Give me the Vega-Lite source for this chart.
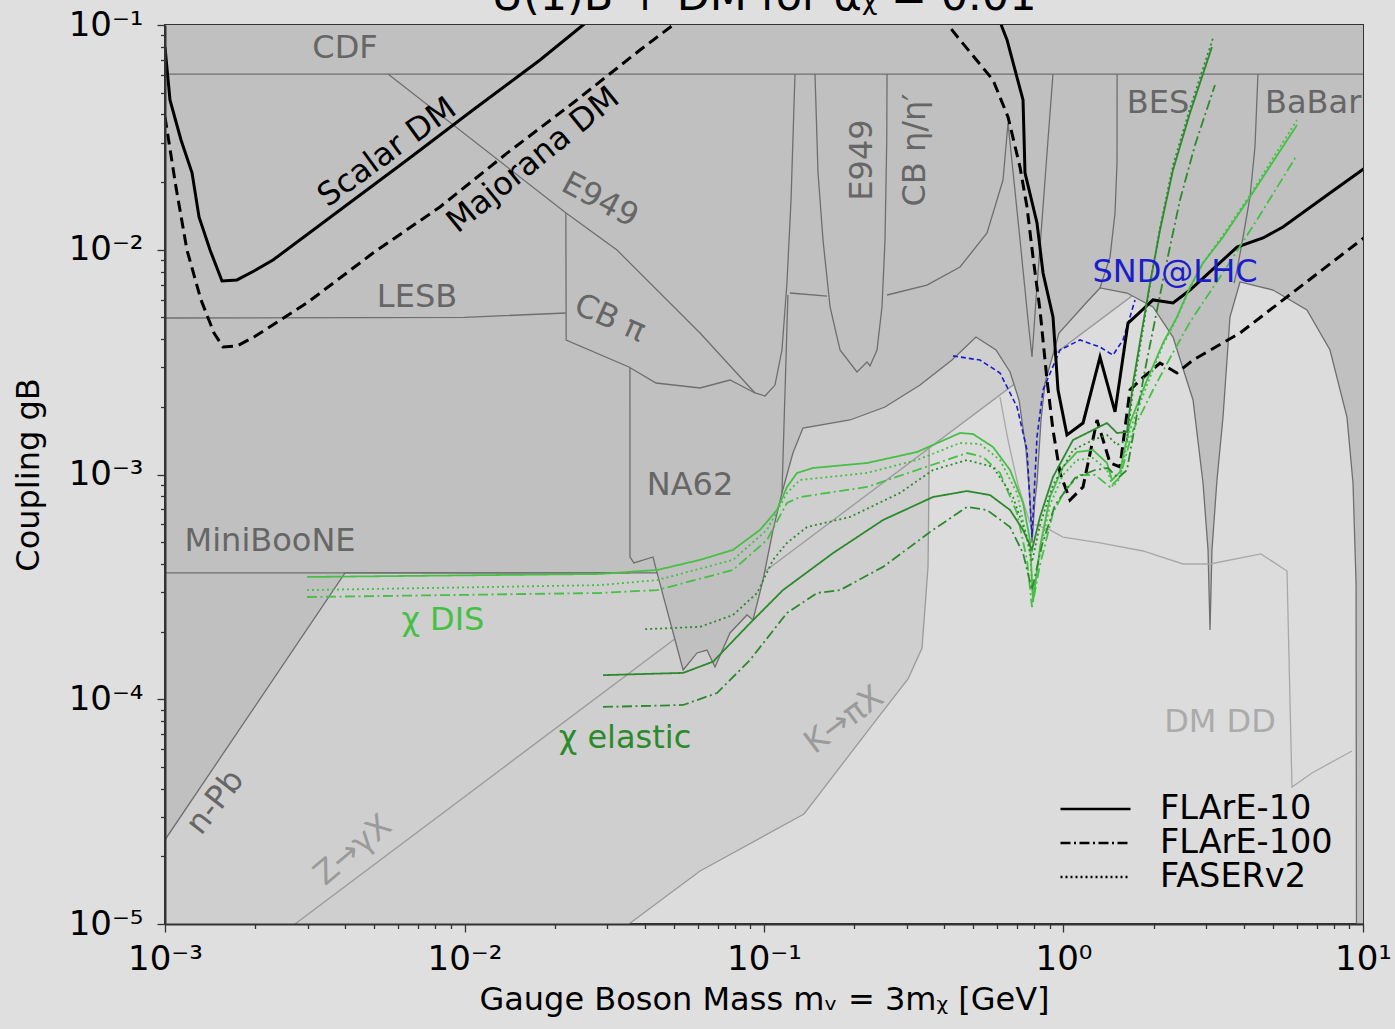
{
"$schema":"https://vega.github.io/schema/vega-lite/v6.json",
"width":1198,"height":899,
"autosize":{"type":"none"},
"padding":{"left":165,"top":25,"right":32,"bottom":105},
"background":"#dfdfdf",
"config":{"view":{"fill":"#dcdcdc","stroke":"#333333","strokeWidth":2},"font":"DejaVu Sans"},
"title":{"text":"U(1)B + DM for αᵪ = 0.01","fontSize":43,"font":"DejaVu Sans","fontWeight":"normal","color":"#000000","offset":0,"dy":45,"baseline":"alphabetic","anchor":"middle"},
"datasets":{
"env":[{"m":0.001,"g":2.37e-5},{"m":0.00399,"g":3.65e-4},{"m":0.04395,"g":3.65e-4},{"m":0.0537,"g":1.349e-4},{"m":0.05975,"g":1.607e-4},{"m":0.0645,"g":1.656e-4},{"m":0.06861,"g":1.391e-4},{"m":0.077,"g":1.972e-4},{"m":0.08774,"g":2.371e-4},{"m":0.0919,"g":2.253e-4},{"m":0.09925,"g":3.393e-4},{"m":0.1072,"g":5.665e-4},{"m":0.1148,"g":8.275e-4},{"m":0.1249,"g":1.246e-3},{"m":0.1349,"g":1.61e-3},{"m":0.1937,"g":1.748e-3},{"m":0.2535,"g":1.997e-3},{"m":0.3319,"g":2.5e-3},{"m":0.4242,"g":3.233e-3},{"m":0.5103,"g":4.09e-3},{"m":0.5951,"g":3.58e-3},{"m":0.6631,"g":2.858e-3},{"m":0.7103,"g":2.145e-3},{"m":0.7496,"g":1.285e-3},{"m":0.7729,"g":7.7e-4},{"m":0.7849,"g":4.958e-4},{"m":0.8031,"g":7.7e-4},{"m":0.8157,"g":9.17e-4},{"m":0.8413,"g":1.748e-3},{"m":0.8673,"g":2.553e-3},{"m":0.966,"g":4.263e-3},{"m":1.189,"g":5.797e-3},{"m":1.324,"g":6.76e-3},{"m":1.629,"g":6.42e-3},{"m":1.99,"g":5.563e-3},{"m":2.321,"g":4.09e-3},{"m":2.707,"g":2.145e-3},{"m":2.923,"g":9.17e-4},{"m":3.038,"g":4.615e-4},{"m":3.085,"g":2.033e-4},{"m":3.131,"g":4.615e-4},{"m":3.254,"g":9.45e-4},{"m":3.409,"g":1.802e-3},{"m":3.596,"g":5.02e-3},{"m":3.884,"g":7.19e-3},{"m":5.006,"g":6.62e-3},{"m":6.5,"g":5.395e-3},{"m":7.76,"g":3.58e-3},{"m":8.84,"g":1.802e-3},{"m":9.26,"g":9.17e-4},{"m":9.48,"g":3.29e-4},{"m":9.51,"g":1e-5},{"m":10,"g":1e-5}],
"med":[{"m":0.001,"g":1e-5},{"m":0.0354,"g":1e-5},{"m":0.06115,"g":1.721e-5},{"m":0.136,"g":3.087e-5},{"m":0.2384,"g":8.18e-5},{"m":0.3026,"g":1.231e-4},{"m":0.337,"g":1.69e-4},{"m":0.3529,"g":3.878e-4},{"m":0.355,"g":7.7e-4},{"m":0.356,"g":1.31e-3},{"m":10,"g":0.0368}],
"kz":[{"id":"K","m":0.0354,"g":1e-5},{"id":"K","m":0.06115,"g":1.721e-5},{"id":"K","m":0.136,"g":3.087e-5},{"id":"K","m":0.2384,"g":8.18e-5},{"id":"K","m":0.3026,"g":1.231e-4},{"id":"K","m":0.337,"g":1.69e-4},{"id":"K","m":0.3529,"g":3.878e-4},{"id":"K","m":0.355,"g":7.7e-4},{"id":"K","m":0.356,"g":1.31e-3},{"id":"Z","m":0.002717,"g":1e-5},{"id":"Z","m":1.733,"g":6.38e-3}],
"outl":[
{"id":"CDF","m":0.001,"g":0.0605},{"id":"CDF","m":10,"g":0.0605},
{"id":"LESB","m":0.001,"g":4.97e-3},{"id":"LESB","m":0.01,"g":5.0e-3},{"id":"LESB","m":0.0218,"g":5.23e-3},
{"id":"MB","m":0.001,"g":3.65e-4},{"id":"MB","m":0.0357,"g":3.65e-4},
{"id":"E949d","m":0.005554,"g":0.0605},{"id":"E949d","m":0.02183,"g":1.457e-2},{"id":"E949d","m":0.03229,"g":9.97e-3},{"id":"E949d","m":0.06115,"g":4.263e-3},{"id":"E949d","m":0.0933,"g":2.305e-3},
{"id":"CBpi","m":0.0218,"g":1.457e-2},{"id":"CBpi","m":0.02185,"g":3.966e-3},{"id":"CBpi","m":0.0354,"g":3.009e-3},{"id":"CBpi","m":0.0436,"g":2.553e-3},{"id":"CBpi","m":0.06115,"g":2.426e-3},{"id":"CBpi","m":0.077,"g":2.633e-3},{"id":"CBpi","m":0.0933,"g":2.305e-3},{"id":"CBpi","m":0.1008,"g":2.235e-3},{"id":"CBpi","m":0.1088,"g":2.5e-3},{"id":"CBpi","m":0.1148,"g":3.58e-3},{"id":"CBpi","m":0.1193,"g":7.11e-3},{"id":"CBpi","m":0.1231,"g":1.665e-2},{"id":"CBpi","m":0.1269,"g":0.0605},
{"id":"NA62l","m":0.03568,"g":2.978e-3},{"id":"NA62l","m":0.03569,"g":4.295e-4},{"id":"NA62l","m":0.0368,"g":4.04e-4},{"id":"NA62l","m":0.0426,"g":4.295e-4},{"id":"NA62l","m":0.04395,"g":3.65e-4},
{"id":"NA62r","m":0.1148,"g":8.275e-4},{"id":"NA62r","m":0.1202,"g":6.29e-3},
{"id":"L9","m":0.1221,"g":6.42e-3},{"id":"L9","m":0.1623,"g":6.22e-3},
{"id":"E949v","m":0.148,"g":0.0605},{"id":"E949v","m":0.1515,"g":2.196e-2},{"id":"E949v","m":0.1574,"g":1.105e-2},{"id":"E949v","m":0.1662,"g":5.563e-3},{"id":"E949v","m":0.1794,"g":3.58e-3},{"id":"E949v","m":0.2044,"g":2.858e-3},{"id":"E949v","m":0.2208,"g":3.167e-3},{"id":"E949v","m":0.2259,"g":3.04e-3},{"id":"E949v","m":0.2384,"g":3.58e-3},{"id":"E949v","m":0.2477,"g":5.563e-3},{"id":"E949v","m":0.2535,"g":1.105e-2},{"id":"E949v","m":0.257,"g":3.078e-2},{"id":"E949v","m":0.2575,"g":0.0605},
{"id":"CBeta","m":0.2576,"g":6.29e-3},{"id":"CBeta","m":0.35,"g":6.967e-3},{"id":"CBeta","m":0.4512,"g":8.378e-3},{"id":"CBeta","m":0.5554,"g":1.187e-2},{"id":"CBeta","m":0.6281,"g":2.043e-2},{"id":"CBeta","m":0.6527,"g":3.664e-2},{"id":"CBeta","m":0.7159,"g":1.105e-2},{"id":"CBeta","m":0.7613,"g":4.87e-3},{"id":"CBeta","m":0.7849,"g":3.333e-3},{"id":"CBeta","m":0.8094,"g":5.975e-3},{"id":"CBeta","m":0.8544,"g":1.55e-2},{"id":"CBeta","m":0.8876,"g":3.078e-2},{"id":"CBeta","m":0.9224,"g":0.0605},
{"id":"BES","m":1.324,"g":6.76e-3},{"id":"BES","m":1.43,"g":9.28e-3},{"id":"BES","m":1.486,"g":1.457e-2},{"id":"BES","m":1.509,"g":2.432e-2},{"id":"BES","m":1.51,"g":0.0605},
{"id":"BaBar","m":3.711,"g":7.11e-3},{"id":"BaBar","m":3.797,"g":8.13e-3},{"id":"BaBar","m":3.976,"g":1.139e-2},{"id":"BaBar","m":4.195,"g":1.717e-2},{"id":"BaBar","m":4.358,"g":2.865e-2},{"id":"BaBar","m":4.459,"g":0.0605}
],
"dmdd":[{"m":0.6138,"g":2.212e-3},{"m":0.6527,"g":1.424e-3},{"m":0.7049,"g":8.98e-4},{"m":0.7729,"g":6.08e-4},{"m":0.9013,"g":5.665e-4},{"m":0.996,"g":5.27e-4},{"m":1.324,"g":4.958e-4},{"m":1.842,"g":4.567e-4},{"m":2.506,"g":3.998e-4},{"m":3.085,"g":3.998e-4},{"m":4.563,"g":4.43e-4},{"m":5.575,"g":3.72e-4},{"m":5.793,"g":4.07e-5},{"m":6.754,"g":4.7e-5},{"m":9.19,"g":5.885e-5}],
"snd":[{"m":0.4276,"g":3.37e-3},{"m":0.5263,"g":3.23e-3},{"m":0.6138,"g":2.83e-3},{"m":0.6994,"g":2.0e-3},{"m":0.7553,"g":1.285e-3},{"m":0.7849,"g":5.27e-4},{"m":0.8157,"g":1.47e-3},{"m":0.8544,"g":2.38e-3},{"m":0.9734,"g":3.58e-3},{"m":1.135,"g":3.97e-3},{"m":1.324,"g":3.69e-3},{"m":1.463,"g":3.4e-3},{"m":1.58,"g":3.97e-3},{"m":1.667,"g":5.02e-3},{"m":1.733,"g":5.98e-3}],
"scalar":[
{"id":"L","m":0.001,"g":7.98e-2},{"id":"L","m":0.001039,"g":4.64e-2},{"id":"L","m":0.001131,"g":3.08e-2},{"id":"L","m":0.001231,"g":2.2e-2},{"id":"L","m":0.001299,"g":1.4e-2},{"id":"L","m":0.001414,"g":9.97e-3},{"id":"L","m":0.00155,"g":7.26e-3},{"id":"L","m":0.001739,"g":7.34e-3},{"id":"L","m":0.001982,"g":8.04e-3},{"id":"L","m":0.002294,"g":9.0e-3},{"id":"L","m":0.00384,"g":1.503e-2},{"id":"L","m":0.00643,"g":2.508e-2},{"id":"L","m":0.01067,"g":4.185e-2},{"id":"L","m":0.01787,"g":6.99e-2},{"id":"L","m":0.02487,"g":0.1},{"id":"L","m":0.0277,"g":0.1108},
{"id":"R","m":0.6044,"g":0.1108},{"id":"R","m":0.6233,"g":9.8e-2},{"id":"R","m":0.6479,"g":8.58e-2},{"id":"R","m":0.7326,"g":4.64e-2},{"id":"R","m":0.7438,"g":2.2e-2},{"id":"R","m":0.8157,"g":1.315e-2},{"id":"R","m":0.8544,"g":7.88e-3},{"id":"R","m":0.9224,"g":5.02e-3},{"id":"R","m":0.9585,"g":2.38e-3},{"id":"R","m":1.027,"g":1.5e-3},{"id":"R","m":1.162,"g":1.695e-3},{"id":"R","m":1.324,"g":3.33e-3},{"id":"R","m":1.486,"g":1.9e-3},{"id":"R","m":1.642,"g":4.72e-3},{"id":"R","m":1.76,"g":5.13e-3},{"id":"R","m":1.99,"g":5.98e-3},{"id":"R","m":2.321,"g":5.8e-3},{"id":"R","m":2.645,"g":6.62e-3},{"id":"R","m":3.797,"g":1.028e-2},{"id":"R","m":4.636,"g":1.128e-2},{"id":"R","m":5.405,"g":1.262e-2},{"id":"R","m":7.76,"g":1.789e-2},{"id":"R","m":10.15,"g":2.31e-2}],
"major":[
{"id":"L","m":0.001,"g":3.9e-2},{"id":"L","m":0.001088,"g":1.9e-2},{"id":"L","m":0.001184,"g":9.97e-3},{"id":"L","m":0.001319,"g":5.98e-3},{"id":"L","m":0.001458,"g":4.26e-3},{"id":"L","m":0.001562,"g":3.69e-3},{"id":"L","m":0.001739,"g":3.73e-3},{"id":"L","m":0.001982,"g":4.09e-3},{"id":"L","m":0.002979,"g":5.8e-3},{"id":"L","m":0.00495,"g":9.67e-3},{"id":"L","m":0.00828,"g":1.55e-2},{"id":"L","m":0.01387,"g":2.69e-2},{"id":"L","m":0.02303,"g":4.5e-2},{"id":"L","m":0.03855,"g":7.74e-2},{"id":"L","m":0.0497,"g":0.1},{"id":"L","m":0.0549,"g":0.1108},
{"id":"R","m":0.3929,"g":0.1108},{"id":"R","m":0.4115,"g":0.1},{"id":"R","m":0.4512,"g":8.58e-2},{"id":"R","m":0.5816,"g":5.69e-2},{"id":"R","m":0.6527,"g":3.9e-2},{"id":"R","m":0.7159,"g":2.33e-2},{"id":"R","m":0.7553,"g":1.55e-2},{"id":"R","m":0.791,"g":9.28e-3},{"id":"R","m":0.8346,"g":5.4e-3},{"id":"R","m":0.881,"g":2.63e-3},{"id":"R","m":0.9224,"g":1.578e-3},{"id":"R","m":0.9734,"g":1.016e-3},{"id":"R","m":1.051,"g":7.7e-4},{"id":"R","m":1.162,"g":8.8e-4},{"id":"R","m":1.294,"g":1.748e-3},{"id":"R","m":1.43,"g":1.125e-3},{"id":"R","m":1.544,"g":1.08e-3},{"id":"R","m":1.667,"g":2.38e-3},{"id":"R","m":1.801,"g":2.63e-3},{"id":"R","m":2.1,"g":3.13e-3},{"id":"R","m":2.393,"g":2.83e-3},{"id":"R","m":2.707,"g":3.23e-3},{"id":"R","m":3.884,"g":4.26e-3},{"id":"R","m":10.15,"g":1.139e-2}],
"curves":[
{"kind":"DIS","exp":"FLArE-10","m":0.00298,"g":3.5e-4},{"kind":"DIS","exp":"FLArE-10","m":0.0283,"g":3.61e-4},{"kind":"DIS","exp":"FLArE-10","m":0.044,"g":3.76e-4},{"kind":"DIS","exp":"FLArE-10","m":0.0612,"g":4.17e-4},{"kind":"DIS","exp":"FLArE-10","m":0.0788,"g":4.62e-4},{"kind":"DIS","exp":"FLArE-10","m":0.097,"g":5.67e-4},{"kind":"DIS","exp":"FLArE-10","m":0.1105,"g":6.95e-4},{"kind":"DIS","exp":"FLArE-10","m":0.1193,"g":8.8e-4},{"kind":"DIS","exp":"FLArE-10","m":0.1289,"g":1.016e-3},{"kind":"DIS","exp":"FLArE-10","m":0.1458,"g":1.069e-3},{"kind":"DIS","exp":"FLArE-10","m":0.2208,"g":1.125e-3},{"kind":"DIS","exp":"FLArE-10","m":0.3243,"g":1.259e-3},{"kind":"DIS","exp":"FLArE-10","m":0.4512,"g":1.53e-3},{"kind":"DIS","exp":"FLArE-10","m":0.4986,"g":1.514e-3},{"kind":"DIS","exp":"FLArE-10","m":0.5816,"g":1.326e-3},{"kind":"DIS","exp":"FLArE-10","m":0.6631,"g":1.047e-3},{"kind":"DIS","exp":"FLArE-10","m":0.7326,"g":7.47e-4},{"kind":"DIS","exp":"FLArE-10","m":0.7729,"g":5.11e-4},{"kind":"DIS","exp":"FLArE-10","m":0.791,"g":2.71e-4},{"kind":"DIS","exp":"FLArE-10","m":0.8346,"g":4.76e-4},{"kind":"DIS","exp":"FLArE-10","m":0.9013,"g":7.94e-4},{"kind":"DIS","exp":"FLArE-10","m":0.996,"g":1.08e-3},{"kind":"DIS","exp":"FLArE-10","m":1.109,"g":1.259e-3},{"kind":"DIS","exp":"FLArE-10","m":1.255,"g":1.285e-3},{"kind":"DIS","exp":"FLArE-10","m":1.397,"g":1.125e-3},{"kind":"DIS","exp":"FLArE-10","m":1.452,"g":9.45e-4},{"kind":"DIS","exp":"FLArE-10","m":1.544,"g":1.026e-3},{"kind":"DIS","exp":"FLArE-10","m":1.667,"g":1.695e-3},{"kind":"DIS","exp":"FLArE-10","m":1.9,"g":2.633e-3},{"kind":"DIS","exp":"FLArE-10","m":2.149,"g":3.847e-3},{"kind":"DIS","exp":"FLArE-10","m":2.393,"g":5.02e-3},{"kind":"DIS","exp":"FLArE-10","m":2.645,"g":6.83e-3},{"kind":"DIS","exp":"FLArE-10","m":2.923,"g":8.73e-3},{"kind":"DIS","exp":"FLArE-10","m":3.409,"g":1.139e-2},{"kind":"DIS","exp":"FLArE-10","m":4.195,"g":1.717e-2},{"kind":"DIS","exp":"FLArE-10","m":6.02,"g":3.589e-2},
{"kind":"DIS","exp":"FASERv2","m":0.00298,"g":3.06e-4},{"kind":"DIS","exp":"FASERv2","m":0.0283,"g":3.22e-4},{"kind":"DIS","exp":"FASERv2","m":0.044,"g":3.39e-4},{"kind":"DIS","exp":"FASERv2","m":0.0788,"g":4.17e-4},{"kind":"DIS","exp":"FASERv2","m":0.1023,"g":5.67e-4},{"kind":"DIS","exp":"FASERv2","m":0.1193,"g":8.28e-4},{"kind":"DIS","exp":"FASERv2","m":0.1319,"g":9.45e-4},{"kind":"DIS","exp":"FASERv2","m":0.2208,"g":1.016e-3},{"kind":"DIS","exp":"FASERv2","m":0.3243,"g":1.16e-3},{"kind":"DIS","exp":"FASERv2","m":0.4512,"g":1.381e-3},{"kind":"DIS","exp":"FASERv2","m":0.5263,"g":1.367e-3},{"kind":"DIS","exp":"FASERv2","m":0.6138,"g":1.16e-3},{"kind":"DIS","exp":"FASERv2","m":0.6994,"g":8.28e-4},{"kind":"DIS","exp":"FASERv2","m":0.7729,"g":4.47e-4},{"kind":"DIS","exp":"FASERv2","m":0.791,"g":2.85e-4},{"kind":"DIS","exp":"FASERv2","m":0.8346,"g":4.52e-4},{"kind":"DIS","exp":"FASERv2","m":0.9013,"g":7.31e-4},{"kind":"DIS","exp":"FASERv2","m":0.996,"g":9.95e-4},{"kind":"DIS","exp":"FASERv2","m":1.109,"g":1.16e-3},{"kind":"DIS","exp":"FASERv2","m":1.255,"g":1.184e-3},{"kind":"DIS","exp":"FASERv2","m":1.397,"g":1.047e-3},{"kind":"DIS","exp":"FASERv2","m":1.463,"g":8.8e-4},{"kind":"DIS","exp":"FASERv2","m":1.544,"g":9.65e-4},{"kind":"DIS","exp":"FASERv2","m":1.667,"g":1.578e-3},{"kind":"DIS","exp":"FASERv2","m":1.9,"g":2.5e-3},{"kind":"DIS","exp":"FASERv2","m":2.149,"g":3.77e-3},{"kind":"DIS","exp":"FASERv2","m":2.393,"g":4.97e-3},{"kind":"DIS","exp":"FASERv2","m":2.645,"g":6.76e-3},{"kind":"DIS","exp":"FASERv2","m":2.923,"g":8.73e-3},{"kind":"DIS","exp":"FASERv2","m":3.409,"g":1.163e-2},{"kind":"DIS","exp":"FASERv2","m":4.195,"g":1.753e-2},{"kind":"DIS","exp":"FASERv2","m":6.02,"g":3.78e-2},
{"kind":"DIS","exp":"FLArE-100","m":0.00298,"g":2.85e-4},{"kind":"DIS","exp":"FLArE-100","m":0.0283,"g":2.97e-4},{"kind":"DIS","exp":"FLArE-100","m":0.044,"g":3.06e-4},{"kind":"DIS","exp":"FLArE-100","m":0.0788,"g":3.76e-4},{"kind":"DIS","exp":"FLArE-100","m":0.1023,"g":5.11e-4},{"kind":"DIS","exp":"FLArE-100","m":0.1193,"g":7.47e-4},{"kind":"DIS","exp":"FLArE-100","m":0.1319,"g":7.94e-4},{"kind":"DIS","exp":"FLArE-100","m":0.2208,"g":8.8e-4},{"kind":"DIS","exp":"FLArE-100","m":0.3243,"g":1.047e-3},{"kind":"DIS","exp":"FLArE-100","m":0.4762,"g":1.246e-3},{"kind":"DIS","exp":"FLArE-100","m":0.5385,"g":1.197e-3},{"kind":"DIS","exp":"FLArE-100","m":0.6138,"g":1.016e-3},{"kind":"DIS","exp":"FLArE-100","m":0.6994,"g":6.74e-4},{"kind":"DIS","exp":"FLArE-100","m":0.7553,"g":4.17e-4},{"kind":"DIS","exp":"FLArE-100","m":0.7849,"g":2.57e-4},{"kind":"DIS","exp":"FLArE-100","m":0.8346,"g":3.96e-4},{"kind":"DIS","exp":"FLArE-100","m":0.9224,"g":6.74e-4},{"kind":"DIS","exp":"FLArE-100","m":1.012,"g":8.53e-4},{"kind":"DIS","exp":"FLArE-100","m":1.135,"g":9.95e-4},{"kind":"DIS","exp":"FLArE-100","m":1.274,"g":9.95e-4},{"kind":"DIS","exp":"FLArE-100","m":1.43,"g":8.8e-4},{"kind":"DIS","exp":"FLArE-100","m":1.544,"g":9.75e-4},{"kind":"DIS","exp":"FLArE-100","m":1.707,"g":1.578e-3},{"kind":"DIS","exp":"FLArE-100","m":1.99,"g":2.377e-3},{"kind":"DIS","exp":"FLArE-100","m":2.268,"g":3.3e-3},{"kind":"DIS","exp":"FLArE-100","m":2.645,"g":4.77e-3},{"kind":"DIS","exp":"FLArE-100","m":3.085,"g":6.49e-3},{"kind":"DIS","exp":"FLArE-100","m":3.596,"g":8.82e-3},{"kind":"DIS","exp":"FLArE-100","m":4.53,"g":1.427e-2},{"kind":"DIS","exp":"FLArE-100","m":6.02,"g":2.64e-2},
{"kind":"elastic","exp":"FLArE-10","m":0.029,"g":1.28e-4},{"kind":"elastic","exp":"FLArE-10","m":0.0537,"g":1.31e-4},{"kind":"elastic","exp":"FLArE-10","m":0.0676,"g":1.47e-4},{"kind":"elastic","exp":"FLArE-10","m":0.0898,"g":2.18e-4},{"kind":"elastic","exp":"FLArE-10","m":0.1157,"g":3.06e-4},{"kind":"elastic","exp":"FLArE-10","m":0.17,"g":4.47e-4},{"kind":"elastic","exp":"FLArE-10","m":0.2496,"g":6.27e-4},{"kind":"elastic","exp":"FLArE-10","m":0.3666,"g":7.94e-4},{"kind":"elastic","exp":"FLArE-10","m":0.4762,"g":8.44e-4},{"kind":"elastic","exp":"FLArE-10","m":0.5684,"g":8.1e-4},{"kind":"elastic","exp":"FLArE-10","m":0.6631,"g":6.95e-4},{"kind":"elastic","exp":"FLArE-10","m":0.7326,"g":5.67e-4},{"kind":"elastic","exp":"FLArE-10","m":0.7849,"g":4.62e-4},{"kind":"elastic","exp":"FLArE-10","m":0.8346,"g":6.47e-4},{"kind":"elastic","exp":"FLArE-10","m":0.9224,"g":9.75e-4},{"kind":"elastic","exp":"FLArE-10","m":1.076,"g":1.424e-3},{"kind":"elastic","exp":"FLArE-10","m":1.255,"g":1.578e-3},{"kind":"elastic","exp":"FLArE-10","m":1.397,"g":1.695e-3},{"kind":"elastic","exp":"FLArE-10","m":1.509,"g":1.53e-3},{"kind":"elastic","exp":"FLArE-10","m":1.629,"g":1.546e-3},{"kind":"elastic","exp":"FLArE-10","m":1.707,"g":2.553e-3},{"kind":"elastic","exp":"FLArE-10","m":1.829,"g":4.4e-3},{"kind":"elastic","exp":"FLArE-10","m":1.945,"g":7.11e-3},{"kind":"elastic","exp":"FLArE-10","m":2.1,"g":1.224e-2},{"kind":"elastic","exp":"FLArE-10","m":2.321,"g":2.264e-2},{"kind":"elastic","exp":"FLArE-10","m":2.645,"g":4.06e-2},{"kind":"elastic","exp":"FLArE-10","m":3.131,"g":7.98e-2},
{"kind":"elastic","exp":"FASERv2","m":0.0401,"g":2.05e-4},{"kind":"elastic","exp":"FASERv2","m":0.0612,"g":2.1e-4},{"kind":"elastic","exp":"FASERv2","m":0.0788,"g":2.37e-4},{"kind":"elastic","exp":"FASERv2","m":0.0948,"g":2.97e-4},{"kind":"elastic","exp":"FASERv2","m":0.1072,"g":4.17e-4},{"kind":"elastic","exp":"FASERv2","m":0.1193,"g":4.96e-4},{"kind":"elastic","exp":"FASERv2","m":0.1392,"g":5.84e-4},{"kind":"elastic","exp":"FASERv2","m":0.1937,"g":6.47e-4},{"kind":"elastic","exp":"FASERv2","m":0.2844,"g":8.28e-4},{"kind":"elastic","exp":"FASERv2","m":0.3666,"g":1.047e-3},{"kind":"elastic","exp":"FASERv2","m":0.4762,"g":1.16e-3},{"kind":"elastic","exp":"FASERv2","m":0.5816,"g":1.08e-3},{"kind":"elastic","exp":"FASERv2","m":0.678,"g":7.94e-4},{"kind":"elastic","exp":"FASERv2","m":0.7553,"g":5.27e-4},{"kind":"elastic","exp":"FASERv2","m":0.7849,"g":4.08e-4},{"kind":"elastic","exp":"FASERv2","m":0.8346,"g":5.96e-4},{"kind":"elastic","exp":"FASERv2","m":0.9224,"g":8.98e-4},{"kind":"elastic","exp":"FASERv2","m":1.076,"g":1.285e-3},{"kind":"elastic","exp":"FASERv2","m":1.255,"g":1.424e-3},{"kind":"elastic","exp":"FASERv2","m":1.397,"g":1.499e-3},{"kind":"elastic","exp":"FASERv2","m":1.509,"g":1.353e-3},{"kind":"elastic","exp":"FASERv2","m":1.629,"g":1.424e-3},{"kind":"elastic","exp":"FASERv2","m":1.707,"g":2.377e-3},{"kind":"elastic","exp":"FASERv2","m":1.829,"g":4.175e-3},{"kind":"elastic","exp":"FASERv2","m":1.945,"g":6.97e-3},{"kind":"elastic","exp":"FASERv2","m":2.1,"g":1.25e-2},{"kind":"elastic","exp":"FASERv2","m":2.321,"g":2.38e-2},{"kind":"elastic","exp":"FASERv2","m":2.645,"g":4.27e-2},{"kind":"elastic","exp":"FASERv2","m":3.156,"g":8.75e-2},
{"kind":"elastic","exp":"FLArE-100","m":0.029,"g":9.24e-5},{"kind":"elastic","exp":"FLArE-100","m":0.0537,"g":9.43e-5},{"kind":"elastic","exp":"FLArE-100","m":0.0697,"g":1.066e-4},{"kind":"elastic","exp":"FLArE-100","m":0.0898,"g":1.495e-4},{"kind":"elastic","exp":"FLArE-100","m":0.1193,"g":2.42e-4},{"kind":"elastic","exp":"FLArE-100","m":0.1503,"g":2.97e-4},{"kind":"elastic","exp":"FLArE-100","m":0.1794,"g":3.06e-4},{"kind":"elastic","exp":"FLArE-100","m":0.2496,"g":3.88e-4},{"kind":"elastic","exp":"FLArE-100","m":0.3666,"g":5.67e-4},{"kind":"elastic","exp":"FLArE-100","m":0.4762,"g":7.17e-4},{"kind":"elastic","exp":"FLArE-100","m":0.5554,"g":6.95e-4},{"kind":"elastic","exp":"FLArE-100","m":0.6631,"g":5.84e-4},{"kind":"elastic","exp":"FLArE-100","m":0.7326,"g":4.47e-4},{"kind":"elastic","exp":"FLArE-100","m":0.7849,"g":3.06e-4},{"kind":"elastic","exp":"FLArE-100","m":0.8475,"g":4.86e-4},{"kind":"elastic","exp":"FLArE-100","m":0.9367,"g":7.31e-4},{"kind":"elastic","exp":"FLArE-100","m":1.092,"g":9.65e-4},{"kind":"elastic","exp":"FLArE-100","m":1.274,"g":1.047e-3},{"kind":"elastic","exp":"FLArE-100","m":1.408,"g":1.069e-3},{"kind":"elastic","exp":"FLArE-100","m":1.521,"g":9.65e-4},{"kind":"elastic","exp":"FLArE-100","m":1.629,"g":1.047e-3},{"kind":"elastic","exp":"FLArE-100","m":1.733,"g":1.661e-3},{"kind":"elastic","exp":"FLArE-100","m":1.871,"g":2.917e-3},{"kind":"elastic","exp":"FLArE-100","m":2.021,"g":4.87e-3},{"kind":"elastic","exp":"FLArE-100","m":2.183,"g":8.13e-3},{"kind":"elastic","exp":"FLArE-100","m":2.449,"g":1.665e-2},{"kind":"elastic","exp":"FLArE-100","m":2.749,"g":2.925e-2},{"kind":"elastic","exp":"FLArE-100","m":3.204,"g":5.41e-2}
]
},
"encoding":{
"x":{"field":"m","type":"quantitative","scale":{"type":"log","domain":[0.001,10],"nice":false},
"axis":{"title":"Gauge Boson Mass mᵥ = 3mᵪ [GeV]","values":[0.001,0.002,0.003,0.004,0.005,0.006,0.007,0.008,0.009,0.01,0.02,0.03,0.04,0.05,0.06,0.07,0.08,0.09,0.1,0.2,0.3,0.4,0.5,0.6,0.7,0.8,0.9,1,2,3,4,5,6,7,8,9,10],
"labelExpr":"abs(log(datum.value)/LN10 - round(log(datum.value)/LN10)) < 0.001 ? '10' + replace(replace(replace(replace(replace(replace(replace(toString(round(log(datum.value)/LN10)),'-','⁻'),'0','⁰'),'1','¹'),'2','²'),'3','³'),'4','⁴'),'5','⁵') : ''",
"tickSize":{"condition":{"test":"abs(log(datum.value)/LN10 - round(log(datum.value)/LN10)) < 0.001","value":8},"value":4.5},
"tickWidth":1.3,"tickColor":"#333333","domainColor":"#333333","domainWidth":2,"labelFontSize":34,"labelFont":"DejaVu Sans","labelColor":"#000000","labelPadding":10,"labelFlush":false,"labelOverlap":false,"titleFontSize":32,"titleFont":"DejaVu Sans","titleFontWeight":"normal","titleColor":"#000000","titlePadding":8,"grid":false,"zindex":1}},
"y":{"field":"g","type":"quantitative","scale":{"type":"log","domain":[1e-5,0.1],"nice":false},
"axis":{"title":"Coupling gB","values":[1e-5,2e-5,3e-5,4e-5,5e-5,6e-5,7e-5,8e-5,9e-5,1e-4,2e-4,3e-4,4e-4,5e-4,6e-4,7e-4,8e-4,9e-4,1e-3,2e-3,3e-3,4e-3,5e-3,6e-3,7e-3,8e-3,9e-3,0.01,0.02,0.03,0.04,0.05,0.06,0.07,0.08,0.09,0.1],
"labelExpr":"abs(log(datum.value)/LN10 - round(log(datum.value)/LN10)) < 0.001 ? '10' + replace(replace(replace(replace(replace(replace(replace(toString(round(log(datum.value)/LN10)),'-','⁻'),'0','⁰'),'1','¹'),'2','²'),'3','³'),'4','⁴'),'5','⁵') : ''",
"tickSize":{"condition":{"test":"abs(log(datum.value)/LN10 - round(log(datum.value)/LN10)) < 0.001","value":8},"value":4.5},
"tickWidth":1.3,"tickColor":"#333333","domainColor":"#333333","domainWidth":2,"labelFontSize":34,"labelFont":"DejaVu Sans","labelColor":"#000000","labelPadding":14,"labelOverlap":false,"labelFlush":false,"titleFontSize":32,"titleFont":"DejaVu Sans","titleFontWeight":"normal","titleColor":"#000000","titlePadding":23,"grid":false,"zindex":1}}
},
"layer":[
{"data":{"name":"med"},"mark":{"type":"area","fill":"#cfcfcf","clip":true},"encoding":{"y2":{"datum":0.1}}},
{"data":{"name":"kz"},"mark":{"type":"line","stroke":"#9a9a9a","strokeWidth":1.3,"clip":true},"encoding":{"detail":{"field":"id"}}},
{"data":{"name":"env"},"mark":{"type":"area","fill":"#c0c0c0","clip":true},"encoding":{"y2":{"datum":0.1}}},
{"data":{"name":"env"},"mark":{"type":"line","stroke":"#6e6e6e","strokeWidth":1.3,"clip":true},"encoding":{}},
{"data":{"name":"outl"},"mark":{"type":"line","stroke":"#6e6e6e","strokeWidth":1.3,"clip":true},"encoding":{"detail":{"field":"id"}}},
{"data":{"name":"dmdd"},"mark":{"type":"line","stroke":"#a8a8a8","strokeWidth":1.3,"clip":true},"encoding":{}},
{"data":{"name":"snd"},"mark":{"type":"line","stroke":"#1a1acc","strokeWidth":1.6,"strokeDash":[5,3],"clip":true},"encoding":{}},
{"data":{"name":"scalar"},"mark":{"type":"line","stroke":"#000000","strokeWidth":3,"clip":true},"encoding":{"detail":{"field":"id"}}},
{"data":{"name":"major"},"mark":{"type":"line","stroke":"#000000","strokeWidth":3,"strokeDash":[11,6],"clip":true},"encoding":{"detail":{"field":"id"}}},
{"data":{"name":"curves"},"mark":{"type":"line","strokeWidth":1.8,"clip":true},
 "encoding":{
  "color":{"field":"kind","type":"nominal","scale":{"domain":["DIS","elastic"],"range":["#45c045","#2b8a2b"]},"legend":null},
  "strokeDash":{"field":"exp","type":"nominal","scale":{"domain":["FLArE-10","FLArE-100","FASERv2"],"range":[[1,0],[10,3.5,2,3.5],[2,3]]},
   "legend":{"title":null,"orient":"bottom-right","offset":30,"symbolType":"stroke","symbolSize":4900,"symbolStrokeWidth":2.5,"symbolStrokeColor":"#000000","labelFontSize":33.5,"labelFont":"DejaVu Sans","labelColor":"#000000","labelLimit":400,"clipHeight":34,"rowPadding":0,"labelOffset":28,"padding":0}}}},
{"data":{"values":[{"m":0.00399,"g":0.079,"t":"CDF"},{"m":0.00694,"g":6.16e-3,"t":"LESB"},{"m":0.002243,"g":5.06e-4,"t":"MiniBooNE"},{"m":0.0566,"g":8.98e-4,"t":"NA62"},{"m":2.068,"g":4.498e-2,"t":"BES"}]},
 "mark":{"type":"text","font":"DejaVu Sans","fontSize":32,"color":"#666666","align":"center","baseline":"middle"},"encoding":{"text":{"field":"t"}}},
{"data":{"values":[{"m":4.708,"g":4.498e-2,"t":"BaBar"}]},
 "mark":{"type":"text","font":"DejaVu Sans","fontSize":32,"color":"#666666","align":"left","baseline":"middle","clip":true},"encoding":{"text":{"field":"t"}}},
{"data":{"values":[{"m":0.02834,"g":1.665e-2,"t":"E949"}]},
 "mark":{"type":"text","font":"DejaVu Sans","fontSize":32,"color":"#666666","align":"center","baseline":"middle","angle":28},"encoding":{"text":{"field":"t"}}},
{"data":{"values":[{"m":0.0306,"g":4.97e-3,"t":"CB π"}]},
 "mark":{"type":"text","font":"DejaVu Sans","fontSize":32,"color":"#666666","align":"center","baseline":"middle","angle":24},"encoding":{"text":{"field":"t"}}},
{"data":{"values":[{"m":0.001469,"g":3.49e-5,"t":"n-Pb"}]},
 "mark":{"type":"text","font":"DejaVu Sans","fontSize":32,"color":"#666666","align":"center","baseline":"middle","angle":-52},"encoding":{"text":{"field":"t"}}},
{"data":{"values":[{"m":0.2124,"g":2.508e-2,"t":"E949"},{"m":0.3193,"g":2.78e-2,"t":"CB η/η′"}]},
 "mark":{"type":"text","font":"DejaVu Sans","fontSize":32,"color":"#666666","align":"center","baseline":"middle","angle":-90},"encoding":{"text":{"field":"t"}}},
{"data":{"values":[{"m":0.00424,"g":2.135e-5,"t":"Z→γX"}]},
 "mark":{"type":"text","font":"DejaVu Sans","fontSize":32,"color":"#9a9a9a","align":"center","baseline":"middle","angle":-40},"encoding":{"text":{"field":"t"}}},
{"data":{"values":[{"m":0.185,"g":8.09e-5,"t":"K→πX"}]},
 "mark":{"type":"text","font":"DejaVu Sans","fontSize":32,"color":"#9a9a9a","align":"center","baseline":"middle","angle":-37},"encoding":{"text":{"field":"t"}}},
{"data":{"values":[{"m":3.33,"g":7.92e-5,"t":"DM DD"}]},
 "mark":{"type":"text","font":"DejaVu Sans","fontSize":32,"color":"#ababab","align":"center","baseline":"middle"},"encoding":{"text":{"field":"t"}}},
{"data":{"values":[{"m":2.357,"g":7.96e-3,"t":"SND@LHC"}]},
 "mark":{"type":"text","font":"DejaVu Sans","fontSize":32,"color":"#1c1ccc","align":"center","baseline":"middle"},"encoding":{"text":{"field":"t"}}},
{"data":{"values":[{"m":0.00551,"g":2.72e-2,"t":"Scalar DM"}]},
 "mark":{"type":"text","font":"DejaVu Sans","fontSize":32,"color":"#000000","align":"center","baseline":"middle","angle":-36},"encoding":{"text":{"field":"t"}}},
{"data":{"values":[{"m":0.01693,"g":2.508e-2,"t":"Majorana DM"}]},
 "mark":{"type":"text","font":"DejaVu Sans","fontSize":32,"color":"#000000","align":"center","baseline":"middle","angle":-39},"encoding":{"text":{"field":"t"}}},
{"data":{"values":[{"m":0.00847,"g":2.253e-4,"t":"χ DIS"}]},
 "mark":{"type":"text","font":"DejaVu Sans","fontSize":32,"color":"#45c045","align":"center","baseline":"middle"},"encoding":{"text":{"field":"t"}}},
{"data":{"values":[{"m":0.03435,"g":6.72e-5,"t":"χ elastic"}]},
 "mark":{"type":"text","font":"DejaVu Sans","fontSize":32,"color":"#2b8a2b","align":"center","baseline":"middle"},"encoding":{"text":{"field":"t"}}}
]
}
